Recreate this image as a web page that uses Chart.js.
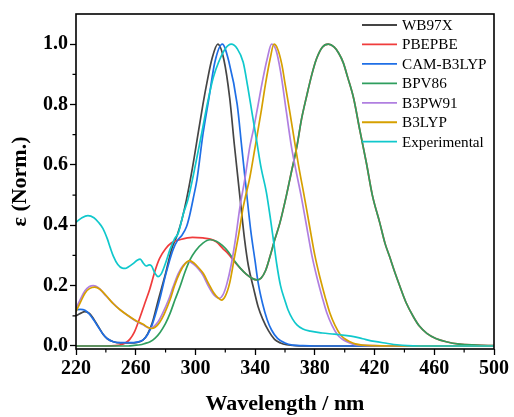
<!DOCTYPE html>
<html lang="en">
<head>
<meta charset="UTF-8">
<title>Normalized absorption spectra</title>
<script src="https://cdn.jsdelivr.net/npm/chart.js@4.4.0/dist/chart.umd.min.js"></script>
<style>
    html, body { margin: 0; padding: 0; background: #fff; }
    #wrap { width: 514px; height: 417px; }
</style>
</head>
<body>
<div id="wrap"><canvas id="spectra" width="514" height="417"></canvas></div>
<script>
// axis ticks
const wavelengthTicks = [220, 260, 300, 340, 380, 420, 460, 500];
const normTicks = [0.0, 0.2, 0.4, 0.6, 0.8, 1.0];

// series, [wavelength nm, normalized epsilon]
const wb97x = [[220,0.100],[223,0.108],[226,0.114],[229,0.108],[232,0.088],[235,0.064],[238,0.040],[241,0.024],[245,0.014],[250,0.010],[256,0.010],[261,0.012],[265,0.020],[268,0.040],[271,0.075],[275,0.150],[280,0.240],[284,0.320],[288,0.370],[291,0.420],[294,0.485],[298,0.590],[302,0.710],[305,0.800],[308,0.880],[311,0.950],[315,1.000],[319,0.950],[323,0.820],[326,0.670],[330,0.485],[333,0.350],[335.5,0.265],[339,0.190],[342,0.130],[345,0.090],[349,0.050],[353,0.022],[357,0.010],[361,0.004],[367,0.001],[380,0],[500,0]];
const pbepbe = [[220,0],[240,0],[246,0.001],[250,0.004],[253,0.010],[256,0.022],[259,0.045],[263,0.097],[266,0.140],[269.5,0.190],[273,0.250],[276,0.290],[280,0.322],[284,0.342],[290,0.353],[298,0.360],[305,0.358],[310,0.354],[314,0.345],[318.5,0.322],[322,0.305],[326,0.280],[330,0.258],[334,0.238],[338,0.224],[341,0.219],[344,0.225],[347,0.250],[350,0.297],[353,0.350],[356.6,0.408],[361,0.500],[364,0.570],[368,0.662],[371,0.750],[374.5,0.828],[378,0.900],[381,0.950],[385,0.990],[389,1.000],[393,0.990],[396,0.970],[399,0.939],[402,0.890],[406,0.820],[410,0.718],[414.5,0.607],[418.5,0.500],[423.5,0.408],[427,0.340],[430,0.297],[433.5,0.245],[437,0.197],[441,0.145],[446,0.097],[450,0.066],[455,0.042],[461,0.025],[468,0.014],[477,0.006],[488,0.003],[500,0.001]];
const camB3lyp = [[220,0.120],[223,0.121],[226,0.118],[229,0.105],[232,0.085],[235,0.062],[238,0.040],[241,0.024],[245,0.014],[250,0.011],[256,0.011],[261,0.013],[265,0.020],[268,0.038],[271,0.070],[276,0.153],[280,0.235],[285,0.319],[288,0.350],[291,0.367],[294,0.395],[296,0.430],[299,0.500],[301,0.550],[305,0.700],[309,0.820],[313,0.940],[318,1.000],[322.5,0.940],[328,0.800],[331,0.660],[334,0.520],[337,0.385],[340,0.280],[342,0.210],[345,0.140],[348,0.088],[351,0.053],[355,0.025],[360,0.010],[365,0.003],[372,0.001],[380,0],[500,0]];
const bpv86 = [[220,0],[255,0],[259,0.002],[263,0.004],[266,0.008],[269.6,0.014],[273,0.026],[276.3,0.045],[280,0.075],[283,0.108],[286.3,0.153],[289.7,0.197],[293,0.245],[296.4,0.286],[300,0.315],[305,0.341],[309.8,0.352],[314,0.347],[318,0.333],[322,0.312],[326,0.283],[330,0.258],[334,0.238],[338,0.224],[341,0.219],[344,0.225],[347,0.250],[350,0.297],[353,0.350],[356.6,0.408],[361,0.500],[364,0.570],[368,0.662],[371,0.750],[374.5,0.828],[378,0.900],[381,0.950],[385,0.990],[389,1.000],[393,0.990],[396,0.970],[399,0.939],[402,0.890],[406,0.820],[410,0.718],[414.5,0.607],[418.5,0.500],[423.5,0.408],[427,0.340],[430,0.297],[433.5,0.245],[437,0.197],[441,0.145],[446,0.097],[450,0.066],[455,0.042],[461,0.025],[468,0.014],[477,0.006],[488,0.003],[500,0.001]];
const b3pw91 = [[220,0.125],[223,0.155],[226,0.183],[229,0.197],[231.6,0.200],[235,0.193],[239,0.172],[244,0.145],[249,0.122],[255,0.100],[260,0.083],[265,0.070],[269.5,0.059],[272,0.064],[275,0.080],[278,0.108],[282,0.153],[285,0.195],[288.5,0.240],[292,0.268],[295.5,0.280],[298.5,0.272],[302,0.255],[305,0.235],[308.5,0.200],[311.5,0.175],[314,0.162],[316,0.158],[318.5,0.170],[321,0.205],[324,0.270],[327,0.360],[329.8,0.460],[333,0.550],[336.5,0.662],[339,0.720],[342,0.800],[345,0.880],[348,0.950],[351,1.000],[354,0.980],[357,0.910],[361,0.773],[364,0.670],[367,0.590],[370.7,0.500],[374,0.410],[378,0.300],[381.5,0.225],[385,0.160],[388,0.110],[391.5,0.068],[395,0.038],[398,0.024],[401.5,0.014],[405,0.007],[410,0.003],[418,0.001],[430,0],[500,0]];
const b3lyp = [[220,0.114],[223,0.145],[226,0.175],[229,0.190],[232.5,0.195],[236,0.188],[240,0.168],[245,0.140],[249.5,0.120],[255,0.100],[260.5,0.083],[265,0.072],[268,0.062],[270.7,0.058],[273,0.062],[276,0.078],[279,0.105],[283,0.153],[286,0.200],[289.7,0.245],[293,0.272],[296,0.283],[299,0.275],[302,0.260],[305.3,0.240],[309,0.205],[312,0.178],[315,0.160],[317.5,0.152],[320,0.165],[323,0.210],[326,0.290],[329,0.370],[332,0.460],[336.5,0.560],[340,0.660],[343.9,0.773],[347,0.870],[350,0.950],[352.6,1.000],[355,0.985],[358,0.930],[360,0.870],[363.3,0.773],[366,0.690],[369,0.600],[372.9,0.496],[376,0.410],[380,0.300],[383.5,0.225],[387,0.160],[390,0.110],[393.5,0.068],[397,0.038],[400,0.024],[403.5,0.014],[407,0.007],[412,0.003],[420,0.001],[430,0],[500,0]];
const experimental = [[220,0.410],[224,0.425],[228,0.432],[232,0.425],[235,0.410],[238,0.390],[241,0.355],[243,0.325],[245,0.298],[248,0.270],[251,0.258],[253,0.257],[255,0.262],[258,0.272],[261,0.284],[263,0.288],[265,0.275],[267,0.265],[269,0.269],[270.5,0.266],[273,0.240],[275,0.230],[277,0.238],[280,0.275],[283,0.320],[286,0.355],[288.5,0.374],[292,0.440],[295,0.485],[300,0.600],[304,0.700],[308.5,0.815],[312,0.890],[315.5,0.940],[320,0.985],[324,1.000],[328,0.985],[332,0.940],[335,0.860],[338,0.770],[341,0.680],[344,0.590],[347.5,0.510],[350,0.430],[352,0.360],[354.5,0.270],[357,0.200],[360,0.150],[362,0.120],[365,0.090],[368,0.070],[372,0.056],[377,0.049],[385,0.043],[393,0.039],[400,0.035],[406,0.031],[412,0.024],[420,0.015],[428,0.009],[435,0.004],[442,0.001],[450,0],[500,0]];

const seriesNames = ['WB97X', 'PBEPBE', 'CAM-B3LYP', 'BPV86', 'B3PW91', 'B3LYP', 'Experimental'];
const seriesData = [wb97x, pbepbe, camB3lyp, bpv86, b3pw91, b3lyp, experimental];
const seriesColors = ['#454545', '#f03c3c', '#1f6fe6', '#2f9e5e', '#b07fe0', '#d6a000', '#10c8cc'];

const serif = "'Liberation Serif', 'Times New Roman', serif";

// frame + minor ticks
const framePlugin = {
    id: 'frame',
    afterDraw(chart) {
        const {ctx, chartArea: a, scales} = chart;
        ctx.save();
        ctx.strokeStyle = '#000';
        ctx.lineWidth = 1.6;
        ctx.strokeRect(a.left, a.top, a.right - a.left, a.bottom - a.top);
        ctx.lineWidth = 1.2;
        ctx.beginPath();
        for (let i = 0; i < wavelengthTicks.length - 1; i++) {
            const px = scales.x.getPixelForValue((wavelengthTicks[i] + wavelengthTicks[i + 1]) / 2);
            ctx.moveTo(px, a.bottom);
            ctx.lineTo(px, a.bottom + 3.5);
        }
        for (let i = 0; i < normTicks.length - 1; i++) {
            const py = scales.y.getPixelForValue((normTicks[i] + normTicks[i + 1]) / 2);
            ctx.moveTo(a.left, py);
            ctx.lineTo(a.left - 3.5, py);
        }
        ctx.stroke();
        ctx.restore();
    }
};

// legend inside the plot, top right
const insetLegend = {
    id: 'insetLegend',
    afterDatasetsDraw(chart) {
        const ctx = chart.ctx;
        ctx.save();
        ctx.font = '15.2px ' + serif;
        ctx.textBaseline = 'middle';
        chart.data.datasets.forEach((ds, i) => {
            const y = 25 + i * 19.45;
            ctx.strokeStyle = ds.borderColor;
            ctx.lineWidth = 1.8;
            ctx.beginPath();
            ctx.moveTo(362, y);
            ctx.lineTo(397, y);
            ctx.stroke();
            ctx.fillStyle = '#000';
            ctx.fillText(ds.label, 402, y + 1);
        });
        ctx.restore();
    }
};

const ctx = document.getElementById('spectra').getContext('2d');
new Chart(ctx, {
    type: 'line',
    data: {
        datasets: seriesNames.map((name, i) => ({
            label: name,
            data: seriesData[i].map(p => ({ x: p[0], y: p[1] })),
            borderColor: seriesColors[i],
            borderWidth: 1.7,
            pointRadius: 0,
            fill: false,
            cubicInterpolationMode: 'monotone',
            order: seriesNames.length - i
        }))
    },
    options: {
        responsive: false,
        devicePixelRatio: 1,
        animation: false,
        layout: { padding: { top: 14, right: 20, left: 0, bottom: 0 } },
        plugins: {
            legend: { display: false },
            tooltip: { enabled: false }
        },
        scales: {
            x: {
                type: 'linear',
                min: 220,
                max: 500,
                afterBuildTicks: s => { s.ticks = wavelengthTicks.map(v => ({ value: v })); },
                afterFit: s => { s.height = 68; },
                border: { display: false },
                grid: { drawOnChartArea: false, tickLength: 6, tickWidth: 1.3, tickColor: '#000' },
                ticks: {
                    color: '#000',
                    padding: 2,
                    maxRotation: 0,
                    font: { family: serif, size: 20, weight: 'bold' }
                },
                title: {
                    display: true,
                    text: 'Wavelength / nm',
                    color: '#000',
                    padding: { top: 0, bottom: -1 },
                    font: { family: serif, size: 22, weight: 'bold' }
                }
            },
            y: {
                min: -0.01,
                max: 1.1,
                afterBuildTicks: s => { s.ticks = normTicks.map(v => ({ value: v })); },
                afterFit: s => { s.width = 76; },
                border: { display: false },
                grid: { drawOnChartArea: false, tickLength: 6, tickWidth: 1.3, tickColor: '#000' },
                ticks: {
                    color: '#000',
                    padding: 2,
                    callback: v => Number(v).toFixed(1),
                    font: { family: serif, size: 20, weight: 'bold' }
                },
                title: {
                    display: true,
                    text: 'ε (Norm.)',
                    color: '#000',
                    padding: { top: 7, bottom: 0 },
                    font: { family: serif, size: 22, weight: 'bold' }
                }
            }
        }
    },
    plugins: [framePlugin, insetLegend]
});
</script>
</body>
</html>
